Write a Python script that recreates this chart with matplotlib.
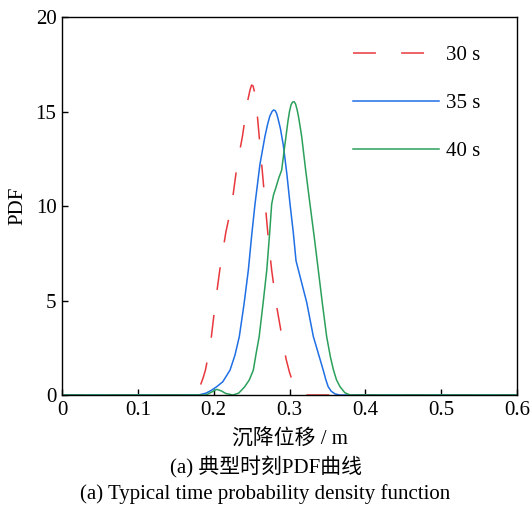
import numpy as np
import matplotlib
matplotlib.use("Agg")
import matplotlib.pyplot as plt

plt.rcParams['font.family'] = ['Liberation Serif', 'Noto Sans CJK SC']
fs = 15

# values
x_30 = [0.0, 0.172, 0.177, 0.181, 0.186, 0.189, 0.193, 0.197, 0.202, 0.208, 0.216, 0.224, 0.231, 0.238,
        0.242, 0.245, 0.248, 0.250, 0.252, 0.254, 0.256, 0.258, 0.260, 0.264, 0.268, 0.272, 0.2765,
        0.283, 0.290, 0.2955, 0.300, 0.305, 0.309, 0.313, 0.318, 0.6]
pdf_30 = [0.0, 0.0, 0.1, 0.35, 0.9, 1.3, 2.1, 3.1, 4.8, 6.6, 8.6, 10.1, 12.2, 13.7,
          14.8, 15.6, 16.15, 16.4, 16.35, 16.0, 15.4, 14.6, 13.7, 11.9, 10.1, 8.3, 6.6,
          4.7, 3.1, 1.9, 1.2, 0.6, 0.3, 0.1, 0.0, 0.0]

x_35 = [0.0, 0.180, 0.190, 0.197, 0.204, 0.212, 0.2216, 0.228, 0.2338, 0.240, 0.2457, 0.250, 0.2545,
        0.261, 0.2677, 0.271, 0.274, 0.277, 0.279, 0.281, 0.283, 0.285, 0.288, 0.2919, 0.2965,
        0.3007, 0.305, 0.3086, 0.315, 0.3227, 0.3314, 0.338, 0.3446, 0.348, 0.351, 0.355, 0.360,
        0.366, 0.6]
pdf_35 = [0.0, 0.0, 0.1, 0.25, 0.44, 0.7, 1.32, 2.1, 3.09, 4.8, 6.6, 8.4, 10.1,
          12.2, 13.7, 14.3, 14.75, 15.0, 15.08, 15.05, 14.9, 14.6, 14.1, 13.2, 11.7,
          10.1, 8.6, 7.1, 6.1, 4.9, 3.1, 2.2, 1.3, 0.8, 0.44, 0.2, 0.06, 0.0, 0.0]

x_40 = [0.0, 0.190, 0.197, 0.204, 0.210, 0.216, 0.2255, 0.233, 0.241, 0.247, 0.2523, 0.256, 0.260,
        0.265, 0.270, 0.2735, 0.2765, 0.279, 0.2815, 0.286, 0.2897, 0.2925, 0.2954, 0.298, 0.300,
        0.302, 0.304, 0.306, 0.308, 0.310, 0.312, 0.316, 0.321, 0.327, 0.3325, 0.338, 0.3435,
        0.349, 0.354, 0.358, 0.362, 0.3666, 0.373, 0.380, 0.6]
pdf_40 = [0.0, 0.0, 0.15, 0.3, 0.22, 0.08, 0.0, 0.1, 0.44, 0.8, 1.32, 2.2, 3.09,
          4.8, 6.6, 8.4, 10.1, 10.6, 10.9, 11.5, 11.9, 12.8, 13.7, 14.5, 15.0,
          15.35, 15.5, 15.52, 15.4, 15.1, 14.7, 13.7, 12.0, 10.1, 8.4, 6.6, 4.8,
          3.09, 2.0, 1.32, 0.8, 0.44, 0.12, 0.0, 0.0]

labels = ['30 s', '35 s', '40 s']
colors = ['#e8383d', '#1f6fe5', '#2ba05b']

fig = plt.figure(figsize=(5.31, 5.12), dpi=100)
ax = fig.add_axes([0.1168, 0.2285, 0.8568, 0.7383])

ax.plot(x_30, pdf_30, color=colors[0], lw=1.1, dashes=(15, 16.5), label=labels[0])
ax.plot(x_35, pdf_35, color=colors[1], lw=1.1, label=labels[1])
ax.plot(x_40, pdf_40, color=colors[2], lw=1.1, label=labels[2])

ax.set_xlim(0, 0.6)
ax.set_ylim(0, 20)
ax.set_xticks([0, 0.1, 0.2, 0.3, 0.4, 0.5, 0.6])
ax.set_xticklabels(['0', '0.1', '0.2', '0.3', '0.4', '0.5', '0.6'])
ax.set_yticks([0, 5, 10, 15, 20])
ax.tick_params(direction='in', length=4, width=1, labelsize=fs, pad=4)
for s in ax.spines.values():
    s.set_linewidth(1.0)

ax.set_xlabel('沉降位移 / m', fontsize=fs, labelpad=7)
ax.set_ylabel('PDF', fontsize=fs, labelpad=6)

ax.legend(loc='upper right', bbox_to_anchor=(0.96, 0.974), frameon=False,
          handlelength=4.15, handletextpad=0.3, labelspacing=1.36, fontsize=fs)

fig.text(0.5, 0.087, '(a) 典型时刻PDF曲线', ha='center', va='center', fontsize=fs)
fig.text(0.5, 0.035, '(a) Typical time probability density function', ha='center', va='center', fontsize=fs)

fig.savefig('out.png', dpi=100)
